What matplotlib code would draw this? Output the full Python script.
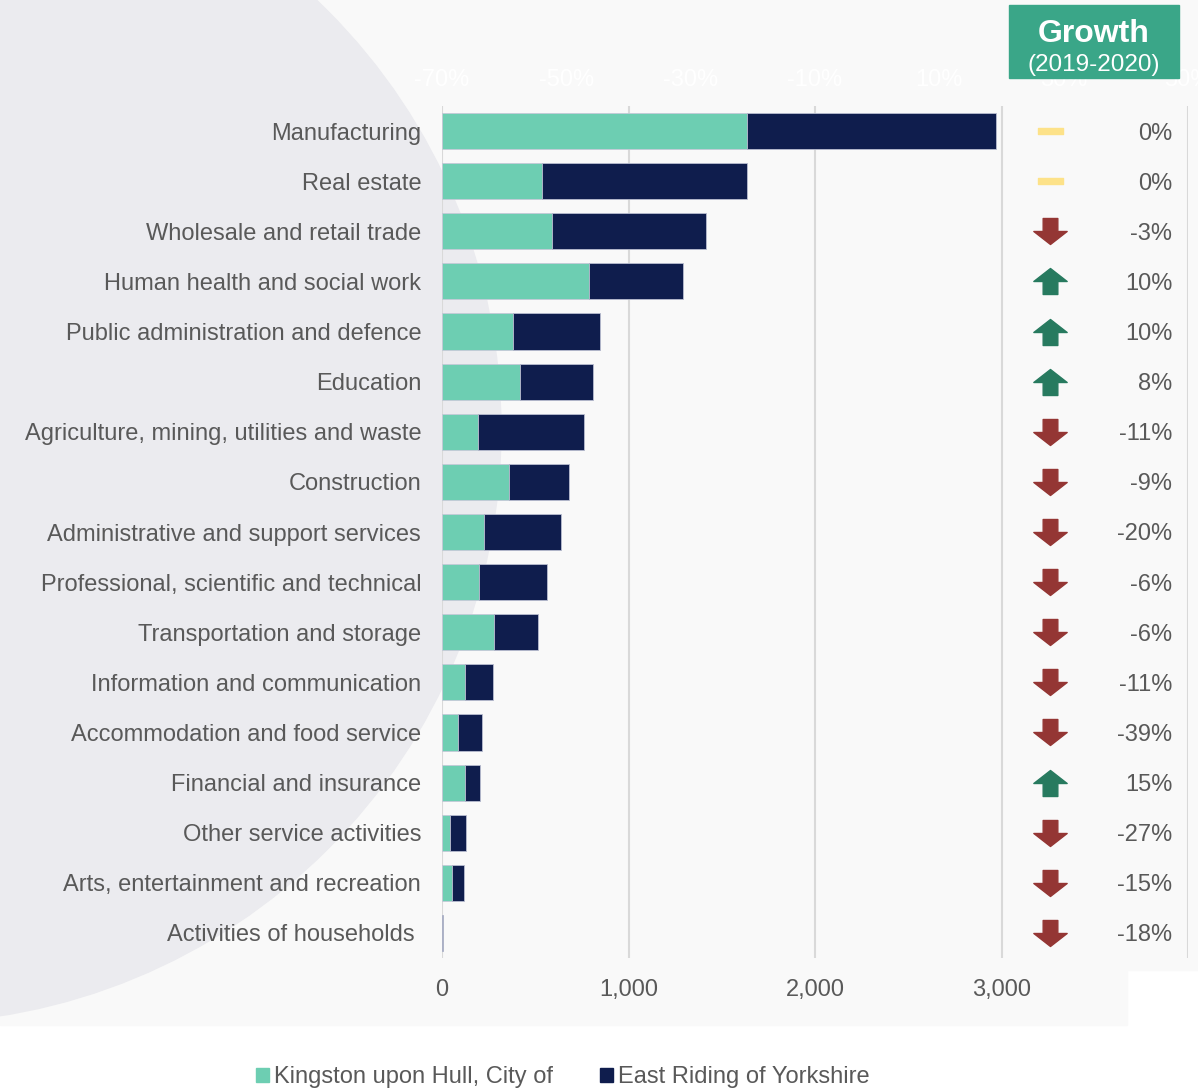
import numpy as np
import matplotlib
matplotlib.use("Agg")
import matplotlib.pyplot as plt
from matplotlib.path import Path
from matplotlib.patches import Rectangle, Ellipse, Patch

plt.rcParams['font.family'] = ['Liberation Sans', 'DejaVu Sans']

categories = ["Manufacturing", "Real estate", "Wholesale and retail trade",
              "Human health and social work", "Public administration and defence",
              "Education", "Agriculture, mining, utilities and waste", "Construction",
              "Administrative and support services", "Professional, scientific and technical",
              "Transportation and storage", "Information and communication",
              "Accommodation and food service", "Financial and insurance",
              "Other service activities", "Arts, entertainment and recreation",
              "Activities of households "]
hull = [1633, 536, 592, 789, 380, 418, 195, 357, 225, 201, 280, 123, 85, 125, 42, 56, 2]
east_riding = [1337, 1098, 822, 502, 468, 393, 565, 325, 414, 363, 236, 152, 127, 81, 87, 61, 3]
growth = [0, 0, -3, 10, 10, 8, -11, -9, -20, -6, -6, -11, -39, 15, -27, -15, -18]
xticks = [0, 1000, 2000, 3000, 4000]
xticklabels = ["0", "1,000", "2,000", "3,000", ""]
pct_ticks = [-70, -50, -30, -10, 10, 30, 50]

W, H = 1198, 1088
txt = "#595959"
c_hull = "#6dceb2"
c_er = "#0f1d4d"

fig = plt.figure(figsize=(W / 100, H / 100), dpi=100)
fig.patch.set_facecolor("white")

# background panels and decorative circle
fig.add_artist(Rectangle((0, 1 - 970 / H), 1, 970 / H, transform=fig.transFigure,
                         color="#f9f9f9", zorder=-3))
fig.add_artist(Rectangle((0, 1 - 1025 / H), 1127 / W, 56 / H, transform=fig.transFigure,
                         color="#f9f9f9", zorder=-3))
fig.add_artist(Ellipse((-92 / W, 1 - 430 / H), 2 * 593 / W, 2 * 593 / H,
                       transform=fig.transFigure, color="#ebebef", zorder=-2))

ax = fig.add_axes([442 / W, 1 - 958 / H, 746 / W, 852 / H])
ax.set_facecolor("none")
y = np.arange(len(categories))
ax.barh(y, hull, height=0.72, color=c_hull, edgecolor="#c5c9d8", linewidth=0.6, zorder=3)
ax.barh(y, east_riding, left=hull, height=0.72, color=c_er, edgecolor="#b8bdd0",
        linewidth=0.6, zorder=3)

ax.set_xlim(0, 4000)
ax.set_ylim(len(categories) - 0.5, -0.5)
ax.set_xticks(xticks)
ax.set_xticklabels(xticklabels)
ax.set_yticks(y)
ax.set_yticklabels(categories)
ax.tick_params(axis="both", length=0, labelsize=17, labelcolor=txt)
ax.tick_params(axis="y", pad=15)
ax.tick_params(axis="x", pad=15)
ax.grid(axis="x", color="#d9d9d9", linewidth=1.5, zorder=0)
for s in ax.spines.values():
    s.set_visible(False)

# faint secondary scale on top
sec = ax.secondary_xaxis("top", functions=(lambda v: -70 + v / 4000 * 120,
                                           lambda p: (p + 70) / 120 * 4000))
sec.set_xticks(pct_ticks)
sec.set_xticklabels([f"{p}%" for p in pct_ticks])
sec.tick_params(length=0, labelsize=17, labelcolor="white", pad=11)
for s in sec.spines.values():
    s.set_visible(False)

# growth markers
up = Path([(-0.22, -0.39), (0.22, -0.39), (0.22, 0), (0.5, 0), (0, 0.39),
           (-0.5, 0), (-0.22, 0), (-0.22, -0.39)], closed=True)
down = Path([(-0.22, 0.39), (0.22, 0.39), (0.22, 0), (0.5, 0), (0, -0.39),
             (-0.5, 0), (-0.22, 0), (-0.22, 0.39)], closed=True)
flat = Path([(-0.5, -0.12), (0.5, -0.12), (0.5, 0.12), (-0.5, 0.12), (-0.5, -0.12)],
            closed=True)
for i, g in enumerate(growth):
    if g > 0:
        ax.plot(3260, i, marker=up, markersize=24, color="#277a5f", linestyle="none",
                clip_on=False, zorder=4)
    elif g < 0:
        ax.plot(3260, i, marker=down, markersize=24, color="#943634", linestyle="none",
                clip_on=False, zorder=4)
    else:
        ax.plot(3260, i, marker=flat, markersize=18, color="#fde289", linestyle="none",
                clip_on=False, zorder=4)
    ax.text(3915, i, f"{g}%", ha="right", va="center_baseline", fontsize=17, color=txt,
            zorder=4)

# growth header box
fig.add_artist(Rectangle((1009 / W, 1 - 78 / H), 170 / W, 73 / H, transform=fig.transFigure,
                         color="#3aa688", zorder=5))
fig.text(1094 / W, 1 - 30 / H, "Growth", ha="center", va="center_baseline", fontsize=23,
         fontweight="bold", color="white", zorder=6)
fig.text(1094 / W, 1 - 62 / H, "(2019-2020)", ha="center", va="center_baseline",
         fontsize=17.5, color="white", zorder=6)

handles = [Patch(color=c_hull), Patch(color=c_er)]
fig.legend(handles, ["Kingston upon Hull, City of", "East Riding of Yorkshire"],
           loc="center", bbox_to_anchor=(563 / W, 1 - 1077 / H), ncol=2, frameon=False,
           fontsize=17, labelcolor=txt, handlelength=0.55, handleheight=0.55,
           handletextpad=0.2, columnspacing=2.0)

fig.savefig("out.png", dpi=100)
